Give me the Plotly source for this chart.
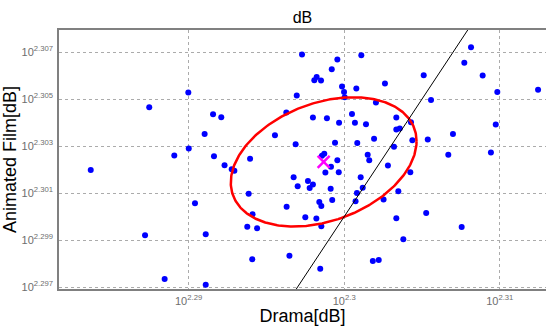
import numpy as np
import plotly.graph_objects as go

# ---- data (log10 of dB values) ----
drama_log10 = [
    2.28998, 2.28747, 2.29157, 2.29210, 2.29103, 2.29001, 2.28908, 2.29163, 2.29231, 2.28371,
    2.29041, 2.28720, 2.29110, 2.28846, 2.29110, 2.29729, 2.29956, 2.30110, 2.29920, 2.29823,
    2.29808, 2.29851, 2.29986, 2.30078, 2.30262, 2.29999, 2.29695, 2.30003, 2.30204, 2.29628,
    2.29799, 2.29889, 2.30050, 2.29967, 2.30069, 2.30140, 2.29555, 2.30192, 2.29688, 2.29941,
    2.30084, 2.30151, 2.30161, 2.29857, 2.29872, 2.29956, 2.29395, 2.29277, 2.29294, 2.29915,
    2.29879, 2.29965, 2.30281, 2.29675, 2.29767, 2.29799, 2.29778, 2.29701, 2.30106, 2.30119,
    2.29913, 2.30082, 2.29386, 2.30073, 2.29923, 2.29840, 2.29853, 2.29630, 2.30253, 2.29411,
    2.29750, 2.29821, 2.29853, 2.29377, 2.29440, 2.29648, 2.29409, 2.29846, 2.30184, 2.30222,
    2.30669, 2.30943, 2.30425, 2.30348, 2.30527, 2.30335, 2.30755, 2.30380, 2.30815, 2.30772,
    2.30511, 2.30890, 2.30984, 2.31246, 2.30558, 2.30335, 2.30335, 2.30357, 2.30429, 2.30438,
    2.30537, 2.30699, 2.30974, 2.30320,
]
film_log10 = [
    2.30528, 2.30465, 2.30436, 2.30423, 2.30351, 2.30290, 2.30260, 2.30257, 2.30219, 2.30198,
    2.30057, 2.29921, 2.29925, 2.29735, 2.29710, 2.30690, 2.30669, 2.30687, 2.30627, 2.30594,
    2.30580, 2.30579, 2.30554, 2.30545, 2.30566, 2.30530, 2.30515, 2.30508, 2.30485, 2.30443,
    2.30422, 2.30419, 2.30437, 2.30399, 2.30399, 2.30393, 2.30346, 2.30331, 2.30308, 2.30314,
    2.30313, 2.30263, 2.30240, 2.30259, 2.30267, 2.30240, 2.30246, 2.30201, 2.30195, 2.30212,
    2.30188, 2.30189, 2.30217, 2.30168, 2.30151, 2.30137, 2.30122, 2.30129, 2.30167, 2.30123,
    2.30119, 2.30100, 2.30097, 2.30065, 2.30071, 2.30062, 2.30045, 2.30042, 2.30073, 2.30010,
    2.29997, 2.29992, 2.29959, 2.29957, 2.29951, 2.29833, 2.29819, 2.29778, 2.29811, 2.29815,
    2.30263, 2.30273, 2.30189, 2.30108, 2.30015, 2.29993, 2.29956, 2.29904, 2.30721, 2.30655,
    2.30601, 2.30600, 2.30530, 2.30540, 2.30496, 2.30422, 2.30371, 2.30375, 2.30402, 2.30325,
    2.30328, 2.30351, 2.30392, 2.30297,
]

# mean marker (log10)
mean_log10 = [2.29868, 2.30233]
# ellipse spread (log10 units) and correlation
ellipse_sx, ellipse_sy, ellipse_rho = 0.00597, 0.00275, 0.32
# identity line y = x (log10)
diag_log10 = [2.28, 2.32]

x_tick_exp = [2.29, 2.30, 2.31]
x_tick_txt = ["2.29", "2.3", "2.31"]
y_tick_exp = [2.297, 2.299, 2.301, 2.303, 2.305, 2.307]
y_tick_txt = ["2.297", "2.299", "2.301", "2.303", "2.305", "2.307"]

drama = 10 ** np.array(drama_log10)
film = 10 ** np.array(film_log10)

t = np.linspace(0, 2 * np.pi, 361)
ex = mean_log10[0] + ellipse_sx * np.cos(t)
ey = mean_log10[1] + ellipse_sy * (ellipse_rho * np.cos(t) + np.sqrt(1 - ellipse_rho ** 2) * np.sin(t))

FONT = "Liberation Sans, Arial, sans-serif"

fig = go.Figure()
fig.add_trace(go.Scatter(
    x=drama, y=film, mode="markers",
    marker=dict(color="#0000ff", size=6, line=dict(width=0)),
    showlegend=False, hoverinfo="x+y"))
fig.add_trace(go.Scatter(
    x=10 ** ex, y=10 ** ey, mode="lines",
    line=dict(color="#ff0000", width=2.5), showlegend=False))
fig.add_trace(go.Scatter(
    x=10 ** np.array(diag_log10), y=10 ** np.array(diag_log10), mode="lines",
    line=dict(color="#000000", width=1), showlegend=False))
fig.add_trace(go.Scatter(
    x=[10 ** mean_log10[0]], y=[10 ** mean_log10[1]], mode="markers",
    marker=dict(symbol="x-thin", size=12, line=dict(color="#ff00ff", width=2.5)),
    showlegend=False))

axis_common = dict(
    type="log", showgrid=True, gridcolor="#ababab", griddash="dot", gridwidth=1,
    showline=True, linecolor="#808080", linewidth=1.5, zeroline=False,
    ticks="", tickfont=dict(family=FONT, size=11, color="#6e6e6e"),
)

fig.update_layout(
    width=546, height=326,
    margin=dict(l=59, r=0, t=30, b=37),
    paper_bgcolor="white", plot_bgcolor="white",
    title=dict(text="dB", x=0.554, xanchor="center", y=0.948, yanchor="middle",
               font=dict(family=FONT, size=16, color="black")),
    xaxis=dict(axis_common,
               range=[2.28167, 2.31297], mirror=True,
               tickvals=list(10 ** np.array(x_tick_exp)),
               ticktext=["10<sup>%s</sup>" % s for s in x_tick_txt],
               ticklabelstandoff=1,
               title=dict(text="Drama[dB]", font=dict(family=FONT, size=18, color="black"), standoff=5)),
    yaxis=dict(axis_common,
               range=[2.29692, 2.30794], mirror=False,
               tickvals=list(10 ** np.array(y_tick_exp)),
               ticktext=["10<sup>%s</sup>" % s for s in y_tick_txt],
               ticklabelstandoff=2,
               title=dict(text="Animated Film[dB]", font=dict(family=FONT, size=18, color="black"), standoff=2)),
)

fig.write_html("out.html")
